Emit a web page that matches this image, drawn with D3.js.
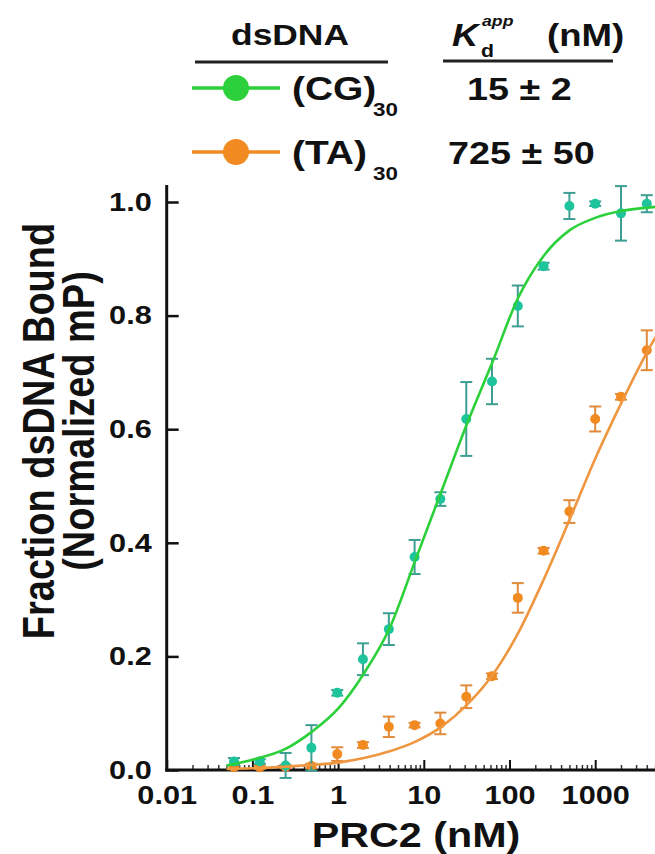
<!DOCTYPE html>
<html>
<head>
<meta charset="utf-8">
<script src="https://cdn.jsdelivr.net/npm/d3@7"></script>
<style>
  html, body { margin: 0; padding: 0; background: #fff; }
  text { font-family: "Liberation Sans", Arial, sans-serif; font-weight: bold; fill: #111; }
</style>
</head>
<body>
<svg id="chart"></svg>
<script>
// PRC2 concentrations (nM), 2-fold dilution series
const conc = [0.061, 0.122, 0.244, 0.488, 0.977, 1.95, 3.91, 7.81, 15.6, 31.3, 62.5, 125, 250, 500, 1000, 2000, 4000];

// (CG)30 fraction bound +/- error
const cgMean = [0.015, 0.015, 0.008, 0.039, 0.136, 0.195, 0.248, 0.375, 0.477, 0.618, 0.684, 0.817, 0.887, 0.993, 0.997, 0.98, 0.997];
const cgErr  = [0.006, 0.004, 0.022, 0.04, 0.005, 0.028, 0.028, 0.03, 0.012, 0.065, 0.04, 0.036, 0.006, 0.023, 0.004, 0.048, 0.015];

// (TA)30 fraction bound +/- error
const taMean = [0.005, 0.005, 0.006, 0.007, 0.028, 0.044, 0.076, 0.079, 0.082, 0.129, 0.165, 0.303, 0.386, 0.455, 0.618, 0.657, 0.739];
const taErr  = [0.003, 0.003, 0.003, 0.004, 0.012, 0.005, 0.018, 0.004, 0.019, 0.02, 0.005, 0.026, 0.005, 0.02, 0.022, 0.005, 0.035];

// fitted binding curves
const fitConc = [0.05, 0.1, 0.25, 0.5, 1, 2, 4, 8, 16, 32, 64, 125, 250, 500, 1000, 2000, 4000, 8000];
const cgFit = [0.008, 0.018, 0.038, 0.068, 0.108, 0.17, 0.25, 0.37, 0.49, 0.61, 0.72, 0.83, 0.905, 0.95, 0.972, 0.984, 0.99, 0.994];
const taFit = [0.002, 0.003, 0.006, 0.009, 0.013, 0.021, 0.033, 0.05, 0.076, 0.115, 0.168, 0.24, 0.335, 0.44, 0.548, 0.645, 0.735, 0.81];

// axis ticks
const xMajor = [0.01, 0.1, 1, 10, 100, 1000];
const yTicks = [0, 0.2, 0.4, 0.6, 0.8, 1.0];

const width = 655, height = 854;
const SX = 1.18; // the figure is stretched horizontally

const svg = d3.select("#chart").attr("width", width).attr("height", height);

const x = d3.scaleLog().domain([0.01, 10000]).range([166.7, 166.7 + 6 * 85.7]);
const y = d3.scaleLinear().domain([0, 1]).range([770, 202]);

const green = "#2bd03a", teal = "#1ec49c", tealBar = "#3d9e92";
const orange = "#f28a22", orangeLine = "#ef9640", orangeBar = "#e08a3a";

// text helper with horizontal stretch
function label(x0, y0, str, size, anchor, style) {
  return svg.append("text")
    .attr("transform", `translate(${x0},${y0}) scale(${SX},1)`)
    .attr("font-size", size)
    .attr("text-anchor", anchor || "start")
    .attr("font-style", style || "normal")
    .text(str);
}

// ---- axes ----
const minor = [];
xMajor.forEach((d) => { for (let k = 2; k <= 9; k++) minor.push(d * k); });

const gx = svg.append("g").attr("transform", `translate(0,${y(0)})`);
gx.call(d3.axisBottom(x).tickValues(xMajor).tickSize(-10).tickPadding(16).tickFormat(d3.format("~g")));
gx.select(".domain").remove();
gx.selectAll("line").attr("stroke", "#111").attr("stroke-width", 2);
gx.selectAll("text").attr("font-size", 26).attr("fill", "#111")
  .attr("transform", `scale(${SX},1)`);

const gxm = svg.append("g").attr("transform", `translate(0,${y(0)})`);
gxm.call(d3.axisBottom(x).tickValues(minor).tickSize(-5).tickFormat(""));
gxm.select(".domain").remove();
gxm.selectAll("line").attr("stroke", "#333").attr("stroke-width", 1.5);

svg.append("line")
  .attr("x1", x(0.01) - 1.5).attr("x2", width)
  .attr("y1", y(0)).attr("y2", y(0))
  .attr("stroke", "#111").attr("stroke-width", 3);

const gy = svg.append("g").attr("transform", `translate(${x(0.01)},0)`);
gy.call(d3.axisLeft(y).tickValues(yTicks).tickSize(-12).tickPadding(15).tickFormat(d3.format(".1f")));
gy.select(".domain").remove();
gy.selectAll("line").attr("stroke", "#111").attr("stroke-width", 2.5);
gy.selectAll("text").attr("font-size", 26).attr("fill", "#111")
  .attr("x", -15 / SX).attr("transform", `scale(${SX},1)`);

svg.append("line")
  .attr("x1", x(0.01)).attr("x2", x(0.01))
  .attr("y1", y(0) + 1.5).attr("y2", y(1.03))
  .attr("stroke", "#111").attr("stroke-width", 3);

// ---- data ----
function series(mean, err, fill, bar) {
  const rows = conc.map((c, i) => ({ c, m: mean[i], e: err[i] }));
  const g = svg.append("g");
  const eb = g.selectAll("g.eb").data(rows).enter().append("g")
    .attr("stroke", bar).attr("stroke-width", 2);
  eb.append("line").attr("x1", (d) => x(d.c)).attr("x2", (d) => x(d.c))
    .attr("y1", (d) => y(d.m - d.e)).attr("y2", (d) => y(d.m + d.e));
  eb.append("line").attr("x1", (d) => x(d.c) - 6).attr("x2", (d) => x(d.c) + 6)
    .attr("y1", (d) => y(d.m + d.e)).attr("y2", (d) => y(d.m + d.e));
  eb.append("line").attr("x1", (d) => x(d.c) - 6).attr("x2", (d) => x(d.c) + 6)
    .attr("y1", (d) => y(d.m - d.e)).attr("y2", (d) => y(d.m - d.e));
  g.selectAll("circle").data(rows).enter().append("circle")
    .attr("cx", (d) => x(d.c)).attr("cy", (d) => y(d.m)).attr("r", 5)
    .attr("fill", fill);
}

function fit(vals, color) {
  const line = d3.line()
    .x((d) => x(d[0])).y((d) => y(d[1]))
    .curve(d3.curveMonotoneX);
  svg.append("path")
    .datum(fitConc.map((c, i) => [c, vals[i]]))
    .attr("fill", "none").attr("stroke", color).attr("stroke-width", 2.6)
    .attr("d", line);
}

series(taMean, taErr, orange, orangeBar);
series(cgMean, cgErr, teal, tealBar);
fit(taFit, orangeLine);
fit(cgFit, green);

// ---- axis titles ----
label(416, 847, "PRC2 (nM)", 35, "middle");

svg.append("text")
  .attr("transform", `translate(54,431) scale(${SX},1) rotate(-90)`)
  .attr("font-size", 38).attr("text-anchor", "middle")
  .text("Fraction dsDNA Bound");
svg.append("text")
  .attr("transform", `translate(94,421) scale(${SX},1) rotate(-90)`)
  .attr("font-size", 38).attr("text-anchor", "middle")
  .text("(Normalized mP)");

// ---- legend ----
label(290, 45, "dsDNA", 30, "middle");
svg.append("line").attr("x1", 195).attr("x2", 388).attr("y1", 62).attr("y2", 62)
  .attr("stroke", "#222").attr("stroke-width", 3);

label(452, 46, "K", 31, "start", "italic");
label(481, 57, "d", 18, "start");
label(482, 26, "app", 15, "start", "italic");
label(547, 46, "(nM)", 31, "start");
svg.append("line").attr("x1", 443).attr("x2", 613).attr("y1", 61).attr("y2", 61)
  .attr("stroke", "#222").attr("stroke-width", 3);

const legendRows = [
  { name: "(CG)", kd: "15 ± 2", color: green, yy: 88, kx: 467 },
  { name: "(TA)", kd: "725 ± 50", color: orange, yy: 152, kx: 448 },
];
legendRows.forEach((r) => {
  svg.append("line").attr("x1", 192).attr("x2", 280).attr("y1", r.yy).attr("y2", r.yy)
    .attr("stroke", r.color).attr("stroke-width", 3.5);
  svg.append("circle").attr("cx", 236).attr("cy", r.yy).attr("r", 13).attr("fill", r.color);
  label(292, r.yy + 12, r.name, 33, "start");
  label(373, r.yy + 28, "30", 19, "start");
  label(r.kx, r.yy + 12, r.kd, 32, "start");
});
</script>
</body>
</html>
